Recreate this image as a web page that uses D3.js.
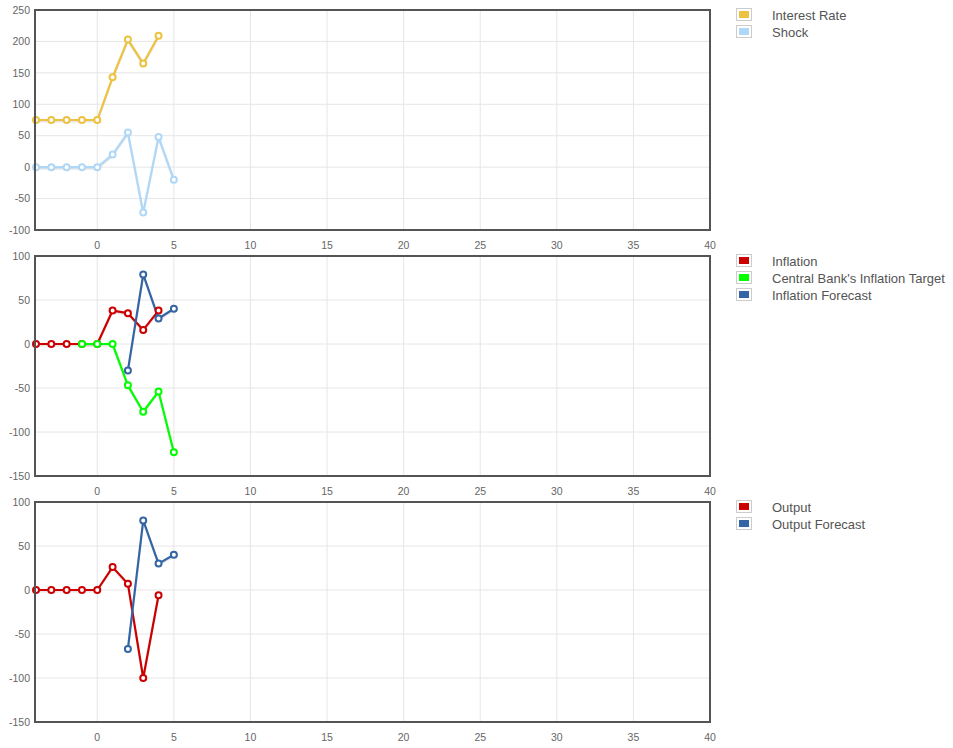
<!DOCTYPE html>
<html><head><meta charset="utf-8">
<script src="https://cdn.jsdelivr.net/npm/d3@7"></script>
<style>
body{margin:0;background:#fff;font-family:"Liberation Sans",Arial,Helvetica,sans-serif;}
</style></head>
<body><svg id="c" width="953" height="748"></svg>
<script>
const xTicks = [0,5,10,15,20,25,30,35,40];
const xDomain = [-4, 40];

// Panel 1
const interestX = [-4,-3,-2,-1,0,1,2,3,4];
const interestRate = [75,75,75,75,75,143,203,165,209];
const shockX = [-4,-3,-2,-1,0,1,2,3,4,5];
const shock = [0,0,0,0,0,20,55,-72,48,-20];
const yTicks1 = [-100,-50,0,50,100,150,200,250];

// Panel 2
const inflationX = [-4,-3,-2,-1,0,1,2,3,4];
const inflation = [0,0,0,0,0,38,35,16,38];
const targetX = [-1,0,1,2,3,4,5];
const target = [0,0,0,-47,-77,-54,-123];
const inflForecastX = [2,3,4,5];
const inflForecast = [-30,79,29,40];
const yTicks2 = [-150,-100,-50,0,50,100];

// Panel 3
const outputX = [-4,-3,-2,-1,0,1,2,3,4];
const output = [0,0,0,0,0,26,7,-100,-6];
const outForecastX = [2,3,4,5];
const outForecast = [-67,79,30,40];
const yTicks3 = [-150,-100,-50,0,50,100];

const panels = [
  {top:10, bottom:230, yDomain:[-100,250], yTicks:yTicks1, series:[
    {name:"Interest Rate", color:"#edc240", x:interestX, y:interestRate},
    {name:"Shock", color:"#afd8f8", x:shockX, y:shock}
  ]},
  {top:256, bottom:476, yDomain:[-150,100], yTicks:yTicks2, series:[
    {name:"Inflation", color:"#cc0000", x:inflationX, y:inflation},
    {name:"Central Bank's Inflation Target", color:"#00ff00", x:targetX, y:target},
    {name:"Inflation Forecast", color:"#3465a4", x:inflForecastX, y:inflForecast}
  ]},
  {top:502, bottom:722, yDomain:[-150,100], yTicks:yTicks3, series:[
    {name:"Output", color:"#cc0000", x:outputX, y:output},
    {name:"Output Forecast", color:"#3465a4", x:outForecastX, y:outForecast}
  ]}
];

const svg = d3.select("#c");
const left = 36, right = 710;
const x = d3.scaleLinear().domain(xDomain).range([left, right]);

panels.forEach(p => {
  const y = d3.scaleLinear().domain(p.yDomain).range([p.bottom, p.top]);
  const g = svg.append("g");
  // grid
  g.selectAll(".vg").data(xTicks).enter().append("line")
    .attr("x1", d=>x(d)).attr("x2", d=>x(d)).attr("y1", p.top).attr("y2", p.bottom)
    .attr("stroke", "#e6e6e6").attr("stroke-width", 1);
  g.selectAll(".hg").data(p.yTicks).enter().append("line")
    .attr("x1", left).attr("x2", right).attr("y1", d=>y(d)).attr("y2", d=>y(d))
    .attr("stroke", "#e6e6e6").attr("stroke-width", 1);
  // labels
  g.selectAll(".yl").data(p.yTicks).enter().append("text")
    .attr("x", 30).attr("y", d=>y(d)).attr("dy","0.35em").attr("text-anchor","end")
    .attr("font-size", 10.5).attr("fill", "#666").text(d=>d);
  g.selectAll(".xl").data(xTicks).enter().append("text")
    .attr("x", d=>x(d)).attr("y", p.bottom + 15).attr("dy","0.35em").attr("text-anchor","middle")
    .attr("font-size", 10.5).attr("fill", "#666").text(d=>d);
  // series
  const clipId = "clip" + p.top;
  svg.append("clipPath").attr("id", clipId).append("rect")
    .attr("x", left-6).attr("y", p.top-6).attr("width", right-left+12).attr("height", p.bottom-p.top+12);
  const sg = g.append("g").attr("clip-path", `url(#${clipId})`);
  p.series.forEach(s => {
    const pts = s.x.map((xv,i)=>[xv, s.y[i]]);
    const line = d3.line().x(d=>x(d[0])).y(d=>y(d[1]));
    sg.append("path").attr("d", line(pts)).attr("fill","none")
      .attr("stroke","rgba(0,0,0,0.1)").attr("stroke-width",2).attr("transform","translate(0,1.5)");
    sg.append("path").attr("d", line(pts)).attr("fill","none")
      .attr("stroke", s.color).attr("stroke-width",2.2).attr("stroke-linejoin","round");
  });
  p.series.forEach(s => {
    const pts = s.x.map((xv,i)=>[xv, s.y[i]]);
    sg.selectAll(null).data(pts).enter().append("circle")
      .attr("cx", d=>x(d[0])).attr("cy", d=>y(d[1])).attr("r", 3)
      .attr("fill","#fff").attr("stroke", s.color).attr("stroke-width", 2);
  });
  // frame
  g.append("rect").attr("x", left-1).attr("y", p.top).attr("width", right-left+1).attr("height", p.bottom-p.top)
    .attr("fill","none").attr("stroke","#545454").attr("stroke-width",2);
  // legend
  const lg = g.append("g");
  p.series.forEach((s,i) => {
    const ly = p.top - 1 + i*17;
    lg.append("rect").attr("x", 736.5).attr("y", ly-0.5).attr("width", 15).attr("height", 12)
      .attr("fill","#fff").attr("stroke","#ccc").attr("stroke-width",1);
    lg.append("rect").attr("x", 739).attr("y", ly+2).attr("width", 10).attr("height", 7)
      .attr("fill", s.color);
    lg.append("text").attr("x", 772).attr("y", ly+6).attr("dy","0.35em")
      .attr("font-size", 13).attr("fill","#545454").text(s.name);
  });
});
</script></body></html>
